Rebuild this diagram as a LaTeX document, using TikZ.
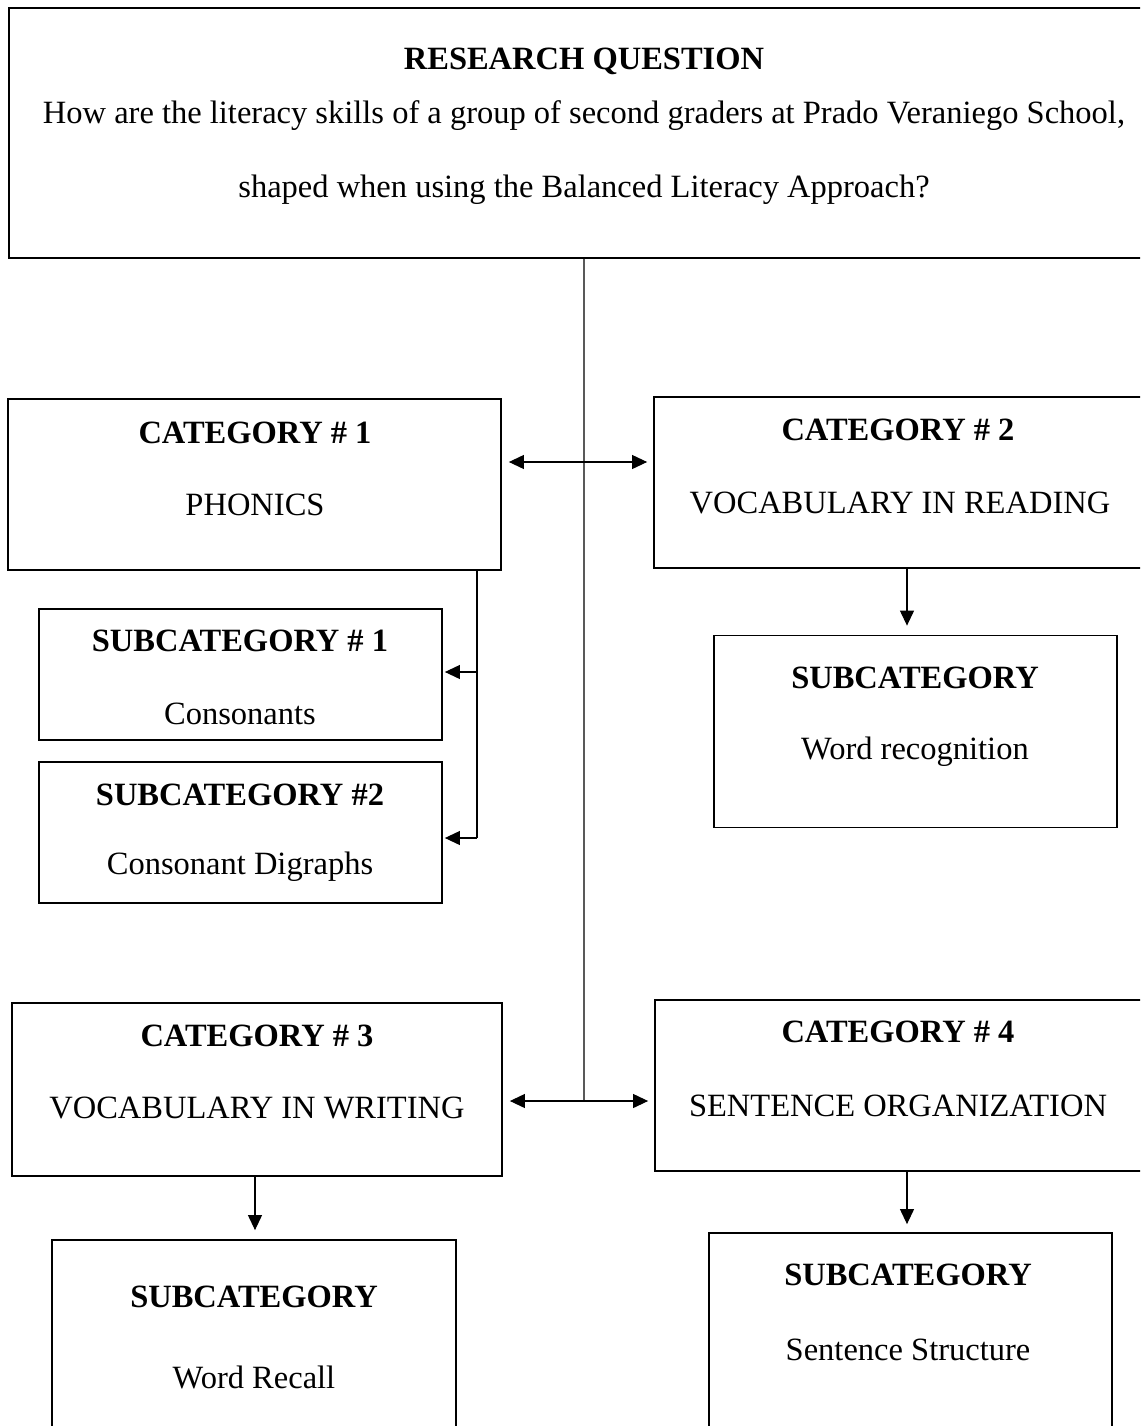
\documentclass[tikz,border=0pt]{standalone}
\usepackage{fontspec}
\setmainfont{Liberation Serif}
\usetikzlibrary{arrows.meta}
\tikzset{
  box/.style={draw, line width=1.8pt, rectangle, inner sep=0pt},
  txt/.style={inner sep=0pt, font=\fontsize{32.5}{38}\selectfont},
  btxt/.style={inner sep=0pt, font=\fontsize{32.5}{38}\selectfont\bfseries},
  conn/.style={line width=1.1pt},
  vline/.style={line width=1.1pt, black!65},
  tipd/.style={-{Triangle[length=15pt,width=14pt]}},
  tipdd/.style={{Triangle[length=15pt,width=14pt]}-{Triangle[length=15pt,width=14pt]}}
}
\begin{document}
\begin{tikzpicture}[x=1pt,y=-1pt]
\useasboundingbox (0,0) rectangle (1140,1426);
\clip (0,0) rectangle (1140,1426);
% boxes
\node[box, minimum width=1160pt, minimum height=250pt] (rq) at (589,133) {};
\node[box, minimum width=493pt, minimum height=171pt] (c1) at (254.5,484.5) {};
\node[box, minimum width=520pt, minimum height=171pt] (c2) at (914,482.5) {};
\node[box, minimum width=403pt, minimum height=131pt] (s1) at (240.5,674.5) {};
\node[box, minimum width=403pt, minimum height=141pt] (s2) at (240.5,832.5) {};
\node[box, minimum width=403pt, minimum height=192pt] (s3) at (915.5,731.5) {};
\node[box, minimum width=490pt, minimum height=173pt] (c3) at (257,1089.5) {};
\node[box, minimum width=520pt, minimum height=171pt] (c4) at (915,1085.5) {};
\node[box, minimum width=404pt, minimum height=220pt] (s4) at (254,1350) {};
\node[box, minimum width=403pt, minimum height=230pt] (s5) at (910.5,1348) {};
% texts
\node[btxt] (rqt) at (584,61) {RESEARCH QUESTION};
\node[txt] (rq1) at (584,116) {How are the literacy skills of a group of second graders at Prado Veraniego School,};
\node[txt] (rq2) at (584,190) {shaped when using the Balanced Literacy Approach?};
\node[btxt] (c1a) at (255,433) {CATEGORY \# 1};
\node[txt] (c1b) at (255,505) {PHONICS};
\node[btxt] (c2a) at (898,430) {CATEGORY \# 2};
\node[txt] (c2b) at (900,503) {VOCABULARY IN READING};
\node[btxt] (s1a) at (240,641) {SUBCATEGORY \# 1};
\node[txt] (s1b) at (240,714) {Consonants};
\node[btxt] (s2a) at (240,795) {SUBCATEGORY \#2};
\node[txt] (s2b) at (240,867) {Consonant Digraphs};
\node[btxt] (s3a) at (915,678) {SUBCATEGORY};
\node[txt] (s3b) at (915,752) {Word recognition};
\node[btxt] (c3a) at (257,1036) {CATEGORY \# 3};
\node[txt] (c3b) at (257,1108) {VOCABULARY IN WRITING};
\node[btxt] (c4a) at (898,1032) {CATEGORY \# 4};
\node[txt] (c4b) at (898,1106) {SENTENCE ORGANIZATION};
\node[btxt] (s4a) at (254,1297) {SUBCATEGORY};
\node[txt] (s4b) at (254,1377) {Word Recall};
\node[btxt] (s5a) at (908,1275) {SUBCATEGORY};
\node[txt] (s5b) at (908,1350) {Sentence Structure};
% connectors
\coordinate (vb) at (584,1101);
\coordinate (h1) at (584,462);
\draw[vline] (rq.south -| vb) -- (vb);
\draw[conn, tipdd, shorten <=7pt, shorten >=6pt] (h1 -| c1.east) -- (h1 -| c2.west);
\draw[conn, tipdd, shorten <=7pt, shorten >=6pt] (vb -| c3.east) -- (vb -| c4.west);
\coordinate (p1) at (477,672);
\coordinate (p2) at (477,838);
\draw[conn] (c1.south -| p1) -- (p2);
\draw[conn, tipd, shorten >=2pt] (p1) -- (p1 -| s1.east);
\draw[conn, tipd, shorten >=2pt] (p2) -- (p2 -| s2.east);
\coordinate (a2) at (907,600);
\draw[conn, tipd, shorten >=9pt] (c2.south -| a2) -- (s3.north -| a2);
\coordinate (a3) at (255,1200);
\draw[conn, tipd, shorten >=9pt] (c3.south -| a3) -- (s4.north -| a3);
\coordinate (a4) at (907,1200);
\draw[conn, tipd, shorten >=8pt] (c4.south -| a4) -- (s5.north -| a4);
\end{tikzpicture}
\end{document}
